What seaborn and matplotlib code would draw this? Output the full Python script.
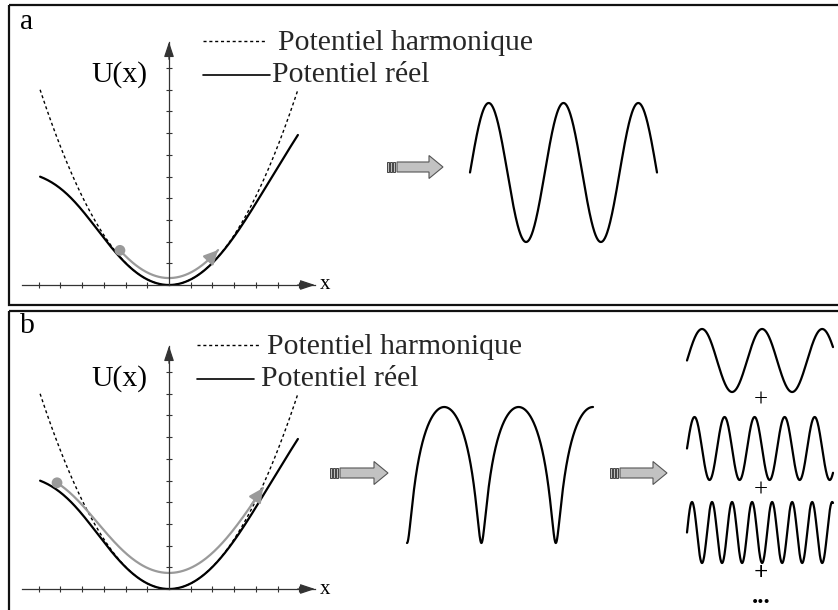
import numpy as np
import pandas as pd
import matplotlib
matplotlib.use("Agg")
import matplotlib.pyplot as plt
import seaborn as sns
from matplotlib.patches import Rectangle, Polygon

# ---------------------------------------------------------------- values
PANEL_LABELS = ["a", "b"]
LEGEND_LABELS = ["Potentiel harmonique", "Potentiel réel"]
AXIS_LABELS = ["U(x)", "x"]
SUM_TAIL = "+\n..."
PLUS = "+"

# potential curves (tick units): harmonic stiffness, real-potential softening
HARMONIC_K = 0.255
REAL_LEFT_DEPTH = 5.35
REAL_RIGHT_SCALE = 5.08
CURVE_EXTENT = [-5.94, 5.94]

# particle trajectories: start, end, vertical offset, scale on U
TRAJ_A = [-2.26, 2.26, 0.32, 1.0]
TRAJ_B = [-5.16, 4.33, 0.74, 0.91]

# time signals
WAVE_A_PHASE = [0.0, 5.0]          # sine phase span, in units of pi
WAVE_B_PHASE = [0.0, 5.0]          # anharmonic phase span, in units of pi
ANHARM_E = 0.95                    # eccentricity of the anharmonic motion
HARMONIC_ORDERS = [1, 2, 3]
BASE_CYCLES = 2.43

# ---------------------------------------------------------------- layout
W, H = 838, 610
SCALE = 21.7                       # pixels per tick
ORIGIN_X = 169
ORIGIN_Y = [285, 589]
XLIM = (-6.77, 6.73)
YLIM = (-0.6, 11.2)
AX_COLOR = "#333333"
GRAY = "#9a9a9a"
FS = 21.4

sns.set_theme(style="white")
plt.rcParams["font.family"] = ["Liberation Serif", "DejaVu Serif"]

fig = plt.figure(figsize=(W / 100, H / 100), dpi=100)


def place(left, right, top, bottom):
    return fig.add_axes([left / W, 1 - bottom / H, (right - left) / W, (bottom - top) / H])


def harmonic(u):
    return HARMONIC_K * u ** 2


def real(u):
    u = np.asarray(u, dtype=float)
    left = REAL_LEFT_DEPTH * np.tanh(HARMONIC_K * u ** 2 / REAL_LEFT_DEPTH)
    right = HARMONIC_K * u ** 2 / (1 + (u / REAL_RIGHT_SCALE) ** 4) ** 0.25
    return np.where(u < 0, left, right)


# overlay in pixel units for frames and block arrows
over = fig.add_axes([0, 0, 1, 1])
over.set_xlim(0, W)
over.set_ylim(H, 0)
over.axis("off")
for top, bottom in [(5, 305), (311, 625)]:
    over.add_patch(Rectangle((9, top), 850, bottom - top, fill=False,
                             edgecolor="#111111", lw=1.6, clip_on=False))


def block_arrow(x0, tip, yc):
    for i in range(3):
        over.add_patch(Rectangle((x0 + i * 3, yc - 5), 2, 10, facecolor="#bdbdbd",
                                 edgecolor="#444444", lw=0.7))
    xb, xh = x0 + 10, tip - 14
    pts = [(xb, yc - 5), (xh, yc - 5), (xh, yc - 11.5), (tip, yc),
           (xh, yc + 11.5), (xh, yc + 5), (xb, yc + 5)]
    over.add_patch(Polygon(pts, closed=True, facecolor="#c2c2c2",
                           edgecolor="#555555", lw=0.8))


block_arrow(387, 443, 167)
block_arrow(330, 388, 473)
block_arrow(610, 667, 473)

over.text(20, 22, PANEL_LABELS[0], fontsize=FS, ha="left", va="center", color="black")
over.text(20, 326, PANEL_LABELS[1], fontsize=FS, ha="left", va="center", color="black")


def potential_panel(oy, traj, leg):
    ax = place(ORIGIN_X + XLIM[0] * SCALE, ORIGIN_X + XLIM[1] * SCALE,
               oy - YLIM[1] * SCALE, oy - YLIM[0] * SCALE)
    ax.set_facecolor("none")
    u = np.linspace(CURVE_EXTENT[0], CURVE_EXTENT[1], 400)
    df = pd.DataFrame({"u": u, "harm": harmonic(u), "real": real(u)})
    sns.lineplot(data=df, x="u", y="harm", ax=ax, color="black", linewidth=1.0,
                 linestyle=(0, (2.2, 2.0)), sort=False, errorbar=None)
    sns.lineplot(data=df, x="u", y="real", ax=ax, color="black", linewidth=1.6,
                 sort=False, errorbar=None)

    u0, u1, off, sc = traj
    ut = np.linspace(u0, u1, 200)
    gt = off + sc * real(ut)
    sns.lineplot(x=ut, y=gt, ax=ax, color=GRAY, linewidth=1.6, sort=False, errorbar=None)
    ax.annotate("", xy=(ut[-1], gt[-1]), xytext=(ut[-12], gt[-12]),
                arrowprops=dict(arrowstyle="-|>,head_length=0.6,head_width=0.3",
                                color=GRAY, lw=1.6, shrinkA=0, shrinkB=0,
                                mutation_scale=14))
    sns.scatterplot(x=[ut[0]], y=[gt[0]], ax=ax, s=60, color=GRAY,
                    edgecolor="none", zorder=5)

    ax.set_xlim(*XLIM)
    ax.set_ylim(*YLIM)
    ax.set_xlabel("")
    ax.set_ylabel("")
    for side in ["top", "right"]:
        ax.spines[side].set_visible(False)
    ax.spines["left"].set_position(("data", 0))
    ax.spines["bottom"].set_position(("data", 0))
    ax.spines["left"].set_bounds(0, YLIM[1])
    for side in ["left", "bottom"]:
        ax.spines[side].set_color(AX_COLOR)
        ax.spines[side].set_linewidth(0.9)
    ax.set_xticks([t for t in range(-6, 7) if t != 0])
    ax.set_yticks(range(1, 11))
    ax.tick_params(direction="inout", length=4, width=0.8, colors=AX_COLOR,
                   bottom=True, left=True, labelbottom=False, labelleft=False)
    head = dict(arrowstyle="-|>,head_length=0.9,head_width=0.3", color=AX_COLOR,
                lw=0.9, shrinkA=0, shrinkB=0, mutation_scale=10)
    ax.annotate("", xy=(XLIM[1], 0), xytext=(XLIM[1] - 0.8, 0), arrowprops=head)
    ax.annotate("", xy=(0, YLIM[1]), xytext=(0, YLIM[1] - 0.8), arrowprops=head)

    ax.text(XLIM[1] + 0.45, 0, AXIS_LABELS[1], fontsize=15, ha="center",
            va="center", color="black")
    ax.text(-2.28, 9.68, AXIS_LABELS[0], fontsize=FS, ha="center", va="center",
            color="black")

    # legend entries
    (d0, d1, dy, tx1, ty1), (s0, s1, sy, tx2, ty2) = leg
    ax.plot([d0, d1], [dy, dy], color="black", lw=1.0, linestyle=(0, (2.2, 2.0)),
            clip_on=False)
    ax.plot([s0, s1], [sy, sy], color="black", lw=1.2, clip_on=False)
    ax.text(tx1, ty1, LEGEND_LABELS[0], fontsize=FS, ha="left", va="center")
    ax.text(tx2, ty2, LEGEND_LABELS[1], fontsize=FS, ha="left", va="center")
    return ax


def px_u(x):
    return (x - ORIGIN_X) / SCALE


def px_v(y, oy):
    return (oy - y) / SCALE


oa, ob = ORIGIN_Y
potential_panel(oa, TRAJ_A, [
    (px_u(203), px_u(267), px_v(41, oa), px_u(278), px_v(43, oa)),
    (px_u(203), px_u(270), px_v(75, oa), px_u(272), px_v(75, oa)),
])
potential_panel(ob, TRAJ_B, [
    (px_u(197), px_u(259), px_v(345, ob), px_u(267), px_v(347, ob)),
    (px_u(197), px_u(254), px_v(379, ob), px_u(261), px_v(379, ob)),
])


def wave_axes(left, right, top, bottom, t, y, ylim=(-1, 1)):
    ax = place(left, right, top, bottom)
    ax.set_facecolor("none")
    sns.lineplot(x=t, y=y, ax=ax, color="black", linewidth=1.6, sort=False,
                 errorbar=None)
    for ln in ax.lines:
        ln.set_clip_on(False)
    ax.set_xlim(t.min(), t.max())
    ax.set_ylim(*ylim)
    ax.axis("off")
    return ax


# panel a: harmonic oscillation
ta = np.linspace(WAVE_A_PHASE[0] * np.pi, WAVE_A_PHASE[1] * np.pi, 500)
wave_axes(470, 657, 103, 242, ta, np.sin(ta))

# panel b: anharmonic oscillation (broad tops, sharp bottoms)
tb = np.linspace(WAVE_B_PHASE[0] * np.pi, WAVE_B_PHASE[1] * np.pi, 1200)
yb = np.log(1 - ANHARM_E * np.cos(tb))
wave_axes(407, 593, 407, 543, tb, yb,
          ylim=(np.log(1 - ANHARM_E), np.log(1 + ANHARM_E)))

# panel b: decomposition into harmonics
rows = [(329, 392), (417, 480), (502, 563)]
for order, (top, bottom) in zip(HARMONIC_ORDERS, rows):
    th = np.linspace(0, 2 * np.pi * BASE_CYCLES * order, 600)
    wave_axes(687, 833, top, bottom, th, np.sin(th))

for y in [401, 491]:
    over.text(761, y, PLUS, fontsize=18, ha="center", va="center", color="black")
over.text(761, 608, SUM_TAIL, fontsize=18, fontweight="bold", ha="center",
          va="bottom", ma="center", linespacing=1.0, color="black")

fig.savefig("out.png", dpi=100)
